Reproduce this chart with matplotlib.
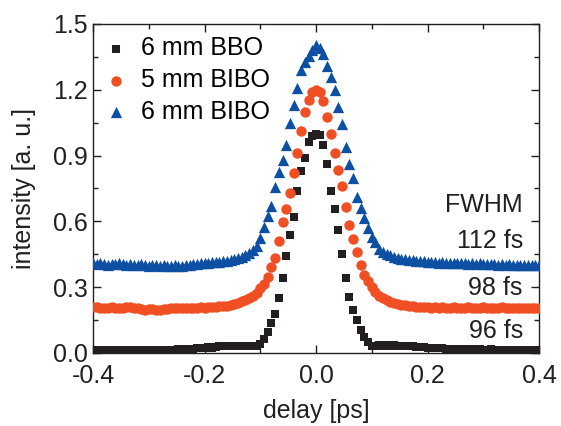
import numpy as np
import matplotlib
matplotlib.use("Agg")
import matplotlib.pyplot as plt

plt.rcParams['font.family'] = ['Liberation Sans', 'DejaVu Sans']

# delay grid (ps): 121 points, step 6.67 fs
delay = np.linspace(-0.4, 0.4, 121)

bbo_6mm = [
    0.012, 0.014, 0.011, 0.013, 0.012, 0.015, 0.013, 0.012, 0.014, 0.013,
    0.012, 0.014, 0.015, 0.013, 0.012, 0.011, 0.013, 0.014, 0.012, 0.013,
    0.014, 0.013, 0.015, 0.016, 0.018, 0.017, 0.019, 0.020, 0.022, 0.021,
    0.024, 0.026, 0.025, 0.028, 0.030, 0.031, 0.030, 0.032, 0.031, 0.032,
    0.031, 0.033, 0.032, 0.033, 0.034, 0.040, 0.062, 0.095, 0.135, 0.180,
    0.250, 0.340, 0.440, 0.540, 0.620, 0.740, 0.830, 0.890, 0.960, 0.990,
    1.000, 0.995, 0.950, 0.860, 0.740, 0.655, 0.560, 0.450, 0.340, 0.255,
    0.198, 0.150, 0.105, 0.072, 0.048, 0.034, 0.032, 0.035, 0.033, 0.036,
    0.034, 0.035, 0.033, 0.032, 0.034, 0.031, 0.030, 0.029, 0.028, 0.027,
    0.025, 0.024, 0.022, 0.023, 0.021, 0.020, 0.019, 0.020, 0.018, 0.017,
    0.018, 0.016, 0.017, 0.015, 0.016, 0.014, 0.015, 0.016, 0.014, 0.015,
    0.013, 0.015, 0.014, 0.013, 0.015, 0.012, 0.014, 0.013, 0.015, 0.014, 0.013,
]

bibo_5mm = [
    0.208, 0.210, 0.206, 0.204, 0.207, 0.209, 0.205, 0.203, 0.206, 0.208,
    0.211, 0.207, 0.204, 0.200, 0.198, 0.201, 0.199, 0.196, 0.198, 0.200,
    0.202, 0.204, 0.203, 0.205, 0.204, 0.206, 0.205, 0.207, 0.206, 0.208,
    0.207, 0.209, 0.208, 0.210, 0.212, 0.214, 0.216, 0.220, 0.224, 0.228,
    0.235, 0.242, 0.250, 0.260, 0.275, 0.295, 0.315, 0.345, 0.390, 0.435,
    0.510, 0.597, 0.655, 0.730, 0.820, 0.910, 1.010, 1.100, 1.155, 1.190,
    1.200, 1.190, 1.150, 1.075, 1.000, 0.910, 0.834, 0.762, 0.665, 0.585,
    0.520, 0.460, 0.400, 0.355, 0.328, 0.300, 0.278, 0.262, 0.250, 0.240,
    0.234, 0.229, 0.225, 0.221, 0.218, 0.215, 0.213, 0.211, 0.210, 0.209,
    0.208, 0.207, 0.209, 0.206, 0.208, 0.205, 0.207, 0.209, 0.206, 0.205,
    0.207, 0.208, 0.206, 0.204, 0.207, 0.209, 0.206, 0.205, 0.207, 0.206,
    0.208, 0.205, 0.207, 0.206, 0.204, 0.206, 0.207, 0.205, 0.206, 0.204, 0.206,
]

bibo_6mm = [
    0.408, 0.405, 0.410, 0.406, 0.403, 0.407, 0.404, 0.409, 0.405, 0.402,
    0.406, 0.403, 0.400, 0.404, 0.401, 0.398, 0.402, 0.399, 0.397, 0.401,
    0.398, 0.396, 0.400, 0.397, 0.395, 0.399, 0.403, 0.406, 0.404, 0.408,
    0.410, 0.412, 0.414, 0.416, 0.415, 0.418, 0.420, 0.424, 0.427, 0.432,
    0.437, 0.445, 0.455, 0.470, 0.490, 0.525, 0.575, 0.625, 0.670, 0.755,
    0.825, 0.880, 0.950, 1.050, 1.130, 1.210, 1.290, 1.325, 1.355, 1.380,
    1.405, 1.390, 1.365, 1.310, 1.260, 1.200, 1.120, 1.045, 0.940, 0.860,
    0.800, 0.710, 0.660, 0.615, 0.570, 0.530, 0.505, 0.475, 0.462, 0.452,
    0.445, 0.438, 0.432, 0.430, 0.427, 0.425, 0.424, 0.421, 0.419, 0.418,
    0.416, 0.414, 0.415, 0.412, 0.413, 0.410, 0.412, 0.409, 0.411, 0.408,
    0.410, 0.407, 0.409, 0.406, 0.408, 0.405, 0.407, 0.404, 0.406, 0.403,
    0.405, 0.403, 0.404, 0.402, 0.403, 0.401, 0.403, 0.400, 0.402, 0.401, 0.400,
]

series_labels = ['6 mm BBO', '5 mm BIBO', '6 mm BIBO']
fwhm_labels = ['FWHM', '112 fs', '98 fs', '96 fs']
fwhm_label_y = [0.644, 0.477, 0.264, 0.067]

x_ticks = [-0.4, -0.2, 0.0, 0.2, 0.4]
y_ticks = [0.0, 0.3, 0.6, 0.9, 1.2, 1.5]

black = '#231f20'
red = '#f04e23'
blue = '#0d4fa3'

fig = plt.figure(figsize=(5.61, 4.26), dpi=100)
ax = fig.add_axes([0.1658, 0.1714, 0.795, 0.7723])

ax.scatter(delay, bbo_6mm, marker='s', s=34, color=black, linewidths=0, label=series_labels[0], zorder=3)
ax.scatter(delay, bibo_5mm, marker='o', s=56, color=red, linewidths=0, label=series_labels[1], zorder=3)
ax.scatter(delay, bibo_6mm, marker='^', s=66, color=blue, linewidths=0, label=series_labels[2], zorder=3)

ax.set_xlim(-0.4, 0.4)
ax.set_ylim(0.0, 1.5)
ax.set_xticks(x_ticks)
ax.set_xticklabels([f'{v:.1f}' for v in x_ticks])
ax.set_yticks(y_ticks)
ax.set_yticklabels([f'{v:.1f}' for v in y_ticks])
ax.set_xticks(np.arange(-0.3, 0.4, 0.2), minor=True)
ax.set_yticks(np.arange(0.15, 1.5, 0.3), minor=True)

fs = 18
ax.tick_params(which='both', direction='in', top=True, right=True, width=1.0, colors=black, labelsize=fs)
ax.tick_params(axis='x', which='both', pad=8)
ax.tick_params(axis='y', which='both', pad=4)
ax.tick_params(which='major', length=5.5)
ax.tick_params(which='minor', length=3.5)
for sp in ax.spines.values():
    sp.set_linewidth(1.0)
    sp.set_color(black)

ax.set_xlabel('delay [ps]', fontsize=fs, color=black, labelpad=8)
ax.set_ylabel('intensity [a. u.]', fontsize=fs, color=black, labelpad=12)

for t, yv in zip(fwhm_labels, fwhm_label_y):
    ax.text(0.371, yv, t, ha='right', va='baseline', fontsize=fs, color=black)

leg = ax.legend(loc='upper left', bbox_to_anchor=(0.0, 1.0), frameon=False, fontsize=fs,
                scatterpoints=1, handletextpad=0.6, labelspacing=0.31, borderaxespad=0.1,
                handlelength=0.8)

fig.savefig('out.png', dpi=100)
